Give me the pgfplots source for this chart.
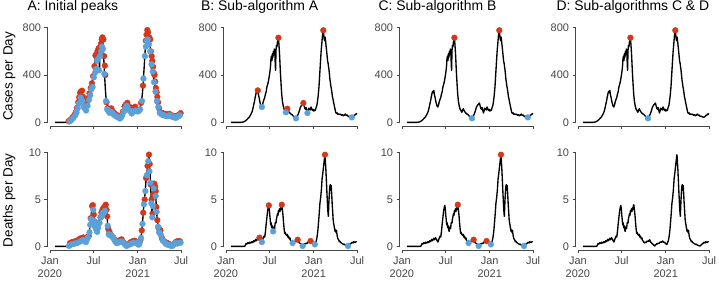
\documentclass[border=0pt]{standalone}
\usepackage{fontspec}
\setmainfont{Liberation Sans}
\usepackage{pgfplots}
\pgfplotsset{compat=1.18}
\usepackage{pgfplotstable}
\definecolor{ptred}{RGB}{212,56,26}
\definecolor{ptblue}{RGB}{92,160,218}
\definecolor{axgray}{RGB}{70,70,70}

\pgfplotstableread{
day val
21 0
30 0
40 0
50 0
60 0
66 1
70 2
74 4
78 8
82 14
86 20
90 28
94 38
98 45
102 60
106 75
110 95
113 120
116 150
119 175
122 210
125 240
128 262
131 250
133 270
136 230
139 205
142 170
146 140
150 130
153 150
156 175
159 195
162 210
165 240
168 260
171 300
174 320
177 345
180 380
183 420
186 470
188 540
190 560
192 520
194 580
196 550
198 600
200 570
202 620
204 590
206 480
207 440
209 610
211 650
213 640
215 680
217 700
219 715
221 660
223 600
225 520
227 430
229 360
231 290
233 230
235 190
237 160
240 130
243 110
246 100
250 85
253 105
256 115
259 100
262 90
266 80
270 72
274 68
278 60
282 50
286 45
290 38
292 34
295 40
298 55
302 70
305 90
308 110
311 130
314 140
317 150
320 155
323 163
326 140
329 120
332 110
335 125
338 95
340 79
343 100
346 120
349 110
352 105
355 130
358 115
361 100
364 110
367 95
370 105
373 100
376 125
379 140
382 180
385 230
388 300
391 400
394 500
397 600
400 670
402 720
404 750
406 778
408 740
410 700
412 690
414 720
416 680
418 640
420 600
422 560
424 520
426 500
428 470
430 440
432 400
434 360
436 330
438 300
440 280
442 250
444 220
446 200
448 180
450 160
452 140
454 120
456 100
458 85
461 75
464 80
467 68
470 72
474 65
478 70
482 60
486 65
490 55
494 62
498 70
502 58
506 62
510 50
514 52
518 48
522 44
525 42
528 46
531 52
534 60
537 58
540 70
543 68
546 76
}\casestab

\pgfplotstableread{
day val
21 0
40 0
60 0
75 0
80 0.05
84 0.3
88 0.25
92 0.4
96 0.3
100 0.45
104 0.35
108 0.5
112 0.4
116 0.6
120 0.5
124 0.75
128 0.6
132 0.85
136 0.7
140 0.93
144 0.75
147 0.6
150 0.46
153 0.7
156 0.9
159 1.1
162 1.0
165 1.6
168 2.4
171 3.1
174 3.8
177 4.2
179 4.38
181 4.0
183 3.3
185 2.8
187 2.3
189 2.5
191 2.0
193 2.2
195 1.8
197 1.6
199 1.9
201 2.1
203 1.9
205 2.4
207 2.6
209 2.5
211 3.0
213 3.2
215 3.5
217 3.3
219 3.8
221 3.7
223 4.0
225 3.7
227 4.1
229 3.9
231 4.3
233 4.45
235 4.0
237 3.6
239 3.0
241 2.3
243 1.8
245 1.4
247 1.5
249 1.3
252 1.2
255 1.3
258 1.0
261 1.1
264 0.8
267 0.9
270 0.6
273 0.55
276 0.4
278 0.36
281 0.45
284 0.4
287 0.55
290 0.5
293 0.6
296 0.55
299 0.71
302 0.55
305 0.4
308 0.35
311 0.25
314 0.2
317 0.1
320 0.04
323 0.15
326 0.2
329 0.3
332 0.25
335 0.35
338 0.3
341 0.45
344 0.4
347 0.5
350 0.45
353 0.57
356 0.5
359 0.4
362 0.45
365 0.3
368 0.25
371 0.21
374 0.4
377 0.6
380 1.0
383 1.6
386 2.5
389 3.5
392 4.6
395 5.2
398 6.0
401 7.2
404 7.8
407 8.5
410 9.2
413 9.79
415 9.0
417 8.1
419 7.0
421 5.8
423 4.8
425 3.8
427 3.2
429 4.5
431 5.5
433 6.3
435 6.6
437 6.0
439 6.5
441 5.6
443 4.6
445 3.8
447 2.9
449 2.5
451 2.2
453 1.9
455 1.6
457 1.8
459 1.5
461 1.7
463 1.3
465 1.0
467 0.8
470 0.7
473 0.5
476 0.55
479 0.4
482 0.35
485 0.3
488 0.25
491 0.2
494 0.25
497 0.15
500 0.12
503 0.08
506 0.06
509 0.04
512 0.1
515 0.2
518 0.25
521 0.3
524 0.4
527 0.45
530 0.35
533 0.5
536 0.45
539 0.4
542 0.5
545 0.45
}\deathstab

\pgfplotstableread{
day val
78 10
86 22
94 40
102 62
108 85
113 122
118 170
122 212
126 250
130 262
134 268
138 215
143 165
149 150
155 175
160 205
165 245
170 290
175 330
180 390
186 475
190 565
195 580
199 605
203 625
207 590
210 640
213 665
216 700
219 718
223 700
226 560
229 480
231 400
236 170
241 120
246 105
251 100
256 118
261 95
266 85
272 72
278 62
284 55
298 58
305 92
311 135
317 152
323 165
329 125
335 128
343 105
349 115
355 132
361 105
367 98
373 104
380 165
388 310
400 690
403 740
406 780
409 760
412 720
415 715
418 700
421 600
424 560
427 520
430 470
433 420
436 400
439 345
442 290
445 255
448 215
451 170
455 120
460 85
466 80
472 75
478 72
485 68
492 65
498 72
505 62
512 55
518 50
525 46
532 58
538 62
545 78
}\casesAred

\pgfplotstableread{
day val
82 8
90 20
98 38
106 60
111 85
116 120
121 160
128 210
132 190
136 175
141 130
146 118
151 100
157 140
163 190
168 230
173 280
178 300
183 380
188 420
192 450
196 520
200 535
205 440
209 560
214 600
217 640
221 620
227 410
234 180
239 110
244 95
249 80
254 90
259 85
264 70
270 60
276 52
282 45
288 40
292 32
296 40
302 60
308 90
314 120
320 140
326 115
332 100
338 90
341 75
346 95
352 92
358 100
364 92
370 95
376 110
384 180
390 370
396 560
400 640
404 690
408 700
413 660
418 600
424 490
429 430
434 340
440 260
446 180
452 130
458 80
464 70
470 62
476 60
482 55
488 52
494 55
500 60
506 55
512 45
518 42
525 38
530 45
536 52
542 60
}\casesAblue

\pgfplotstableread{
day val
84 0.35
92 0.45
100 0.5
108 0.55
116 0.65
124 0.8
132 0.9
140 0.95
147 0.8
156 1.0
162 1.1
170 3.0
176 4.3
179 4.4
183 3.4
189 2.6
193 2.3
199 2.0
205 2.5
211 3.1
215 3.6
219 3.9
223 4.1
227 4.2
231 4.35
233 4.45
236 3.9
239 3.2
243 1.9
247 1.6
252 1.35
258 1.1
264 0.95
270 0.7
278 0.5
287 0.6
293 0.65
299 0.75
306 0.45
326 0.25
335 0.4
341 0.5
347 0.55
353 0.6
359 0.5
365 0.35
377 0.65
383 1.7
389 3.6
395 5.0
401 7.3
407 8.6
413 9.8
416 8.8
420 6.6
424 5.0
428 3.5
431 5.6
435 6.7
437 6.5
439 6.3
441 5.9
444 4.2
448 2.8
453 2.0
457 1.8
461 1.7
467 0.9
473 0.6
479 0.5
486 0.4
494 0.3
512 0.15
521 0.35
527 0.5
533 0.55
542 0.55
}\deathsAred

\pgfplotstableread{
day val
80 0.05
88 0.2
96 0.25
104 0.3
112 0.35
120 0.45
128 0.55
136 0.65
144 0.7
150 0.45
153 0.65
159 0.95
165 1.5
168 2.3
172 2.9
181 3.9
185 2.7
187 2.2
191 1.9
195 1.7
197 1.55
201 2.0
207 2.5
213 3.1
217 3.3
221 3.6
225 3.6
229 3.8
241 2.2
245 1.3
249 1.2
255 1.2
261 1.0
267 0.8
273 0.5
278 0.35
284 0.4
290 0.45
296 0.5
302 0.5
311 0.25
317 0.1
320 0.04
332 0.2
338 0.25
344 0.35
350 0.4
362 0.4
368 0.2
371 0.2
374 0.35
380 0.9
386 2.4
392 4.5
398 5.9
404 7.6
410 9.1
415 8.0
419 6.8
423 4.6
427 3.1
429 4.3
433 6.2
441 5.4
445 3.7
451 2.1
455 1.5
459 1.4
463 1.2
470 0.65
476 0.5
482 0.3
488 0.2
497 0.15
503 0.07
509 0.03
515 0.15
524 0.35
530 0.3
539 0.35
545 0.4
}\deathsAblue

\pgfplotsset{
  panel/.style={
    scale only axis, width=136bp, height=100bp,
    anchor=south west,
    xmin=-10, xmax=557,
    axis lines*=left, axis line style={draw=none},
    tick align=outside, major tick length=3bp,
    tick style={axgray, line width=0.7pt},
    xtick={0,182,366,547},
    ticklabel style={font=\fontsize{11}{13.5}\selectfont, text=axgray},
    clip=false,
  },
  casesp/.style={panel, ymin=-35, ymax=810, ytick={0,400,800}, yticklabels={0,400,800},
    xticklabels={{},{},{},{}}},
  deathsp/.style={panel, ymin=-0.42, ymax=10.26, ytick={0,5,10}, yticklabels={0,5,10},
    xticklabels={{Jan\\2020},{Jul},{Jan\\2021},{Jul}}, xticklabel style={align=center}},
  curve/.style={black, line width=1.35pt, line join=round, no markers},
  reddot/.style={only marks, mark=*, mark size=2.9pt, color=ptred, fill=ptred},
  bluedot/.style={only marks, mark=*, mark size=2.9pt, color=ptblue, fill=ptblue},
}
\newcommand{\caxes}{\draw[axgray, line width=0.7pt] (axis cs:0,-35) -- (axis cs:547,-35);
  \draw[axgray, line width=0.7pt] (axis cs:-10,0) -- (axis cs:-10,800);}
\newcommand{\daxes}{\draw[axgray, line width=0.7pt] (axis cs:0,-0.42) -- (axis cs:547,-0.42);
  \draw[axgray, line width=0.7pt] (axis cs:-10,0) -- (axis cs:-10,10);}

\begin{document}
\begin{tikzpicture}
\useasboundingbox (0,0) rectangle (719bp,284bp);
% titles
\node[anchor=base west, font=\fontsize{14}{16}\selectfont] at (24bp,273bp) {A: Initial peaks};
\node[anchor=base west, font=\fontsize{14}{16}\selectfont] at (197.5bp,273bp) {B: Sub-algorithm A};
\node[anchor=base west, font=\fontsize{14}{16}\selectfont] at (375bp,273bp) {C: Sub-algorithm B};
\node[anchor=base west, font=\fontsize{14}{16}\selectfont] at (553bp,273bp) {D: Sub-algorithms C \& D};
\node[rotate=90, anchor=base, font=\fontsize{13.5}{16}\selectfont] at (12.7bp,207.5bp) {Cases per Day};
\node[rotate=90, anchor=base, font=\fontsize{13.5}{16}\selectfont] at (12.7bp,83.7bp) {Deaths per Day};

% ---- Row 1: cases
\begin{axis}[casesp, at={(47.5bp,157.5bp)}]
\caxes
\addplot[curve] table[x=day,y=val] {\casestab};
\addplot[reddot] table[x=day,y=val] {\casesAred};
\addplot[bluedot] table[x=day,y=val] {\casesAblue};
\end{axis}
\begin{axis}[casesp, at={(223.5bp,157.5bp)}]
\caxes
\addplot[curve] table[x=day,y=val] {\casestab};
\addplot[reddot] coordinates {(133,270) (219,715) (256,115) (323,163) (406,778)};
\addplot[bluedot] coordinates {(150,130) (250,85) (292,34) (340,79) (525,42)};
\end{axis}
\begin{axis}[casesp, at={(399.5bp,157.5bp)}]
\caxes
\addplot[curve] table[x=day,y=val] {\casestab};
\addplot[reddot] coordinates {(219,715) (406,778)};
\addplot[bluedot] coordinates {(292,34) (525,42)};
\end{axis}
\begin{axis}[casesp, at={(575.5bp,157.5bp)}]
\caxes
\addplot[curve] table[x=day,y=val] {\casestab};
\addplot[reddot] coordinates {(219,715) (406,778)};
\addplot[bluedot] coordinates {(292,34)};
\end{axis}

% ---- Row 2: deaths
\begin{axis}[deathsp, at={(47.5bp,33.7bp)}]
\daxes
\addplot[curve] table[x=day,y=val] {\deathstab};
\addplot[reddot] table[x=day,y=val] {\deathsAred};
\addplot[bluedot] table[x=day,y=val] {\deathsAblue};
\end{axis}
\begin{axis}[deathsp, at={(223.5bp,33.7bp)}]
\daxes
\addplot[curve] table[x=day,y=val] {\deathstab};
\addplot[reddot] coordinates {(140,0.93) (179,4.38) (233,4.45) (299,0.71) (353,0.57) (413,9.79)};
\addplot[bluedot] coordinates {(150,0.46) (197,1.6) (278,0.36) (320,0.04) (371,0.21) (509,0.04)};
\end{axis}
\begin{axis}[deathsp, at={(399.5bp,33.7bp)}]
\daxes
\addplot[curve] table[x=day,y=val] {\deathstab};
\addplot[reddot] coordinates {(233,4.45) (299,0.71) (353,0.57) (413,9.79)};
\addplot[bluedot] coordinates {(278,0.36) (320,0.04) (371,0.21) (509,0.04)};
\end{axis}
\begin{axis}[deathsp, at={(575.5bp,33.7bp)}]
\daxes
\addplot[curve] table[x=day,y=val] {\deathstab};
\end{axis}
\end{tikzpicture}
\end{document}
